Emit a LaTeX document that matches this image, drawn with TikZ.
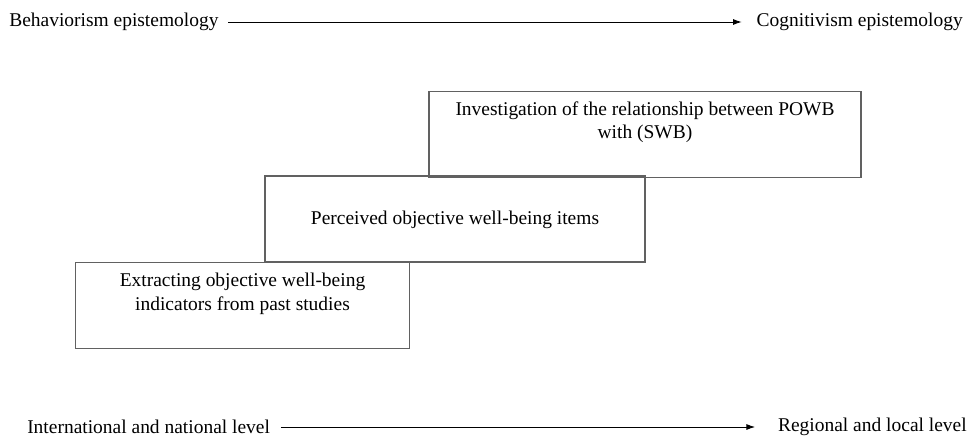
\documentclass[tikz,border=0pt]{standalone}
\usepackage{fontspec}
\setmainfont{Liberation Serif}
\usepackage{tikz}
\usetikzlibrary{arrows.meta, positioning, calc}

\begin{document}
\begin{tikzpicture}[x=0.75pt, y=-0.75pt,
        axis/.style={inner sep=0pt, font=\fontsize{14.6}{17}\selectfont},
        stage/.style={rectangle, draw=black!62, line width=0.8pt, inner sep=0pt},
        stagetext/.style={inner sep=0pt, align=center, font=\fontsize{14.6}{17.5}\selectfont},
        line/.style={draw=black, -{Latex[length=6.5pt, width=4.5pt]}, line width=0.7pt}]

        \useasboundingbox (0,0) rectangle (976,439);

        % epistemology axis
        \node [axis, anchor=west] (behav) at (9,22) {Behaviorism epistemology};
        \node [axis, anchor=east] (cogn) at (963,22) {Cognitivism epistemology};
        \path [line, shorten <=7pt, shorten >=11pt] (behav) -- (cogn);

        % stages
        \node [stage, minimum width=324pt, minimum height=64pt] (invest) at (645,134.5) {};
        \node [stagetext, below=7.5pt of invest.north] (investtxt) {Investigation of the relationship between POWB\\with (SWB)};

        \node [stage, minimum width=285pt, minimum height=64.5pt] (perceived) at (455,219) {};
        \node [stagetext] (perceivedtxt) at (455,220) {Perceived objective well-being items};

        \node [stage, minimum width=250pt, minimum height=64pt] (extract) at (242.5,305.5) {};
        \node [stagetext, below=8pt of extract.north] (extracttxt) {Extracting objective well-being\\indicators from past studies};

        % level axis
        \node [axis, anchor=west] (intl) at (27,427) {International and national level};
        \node [axis, anchor=east] (regional) at (967,427) {Regional and local level};
        \path [line, shorten <=8pt, shorten >=17pt] (intl) -- (regional);
    \end{tikzpicture}
\end{document}
